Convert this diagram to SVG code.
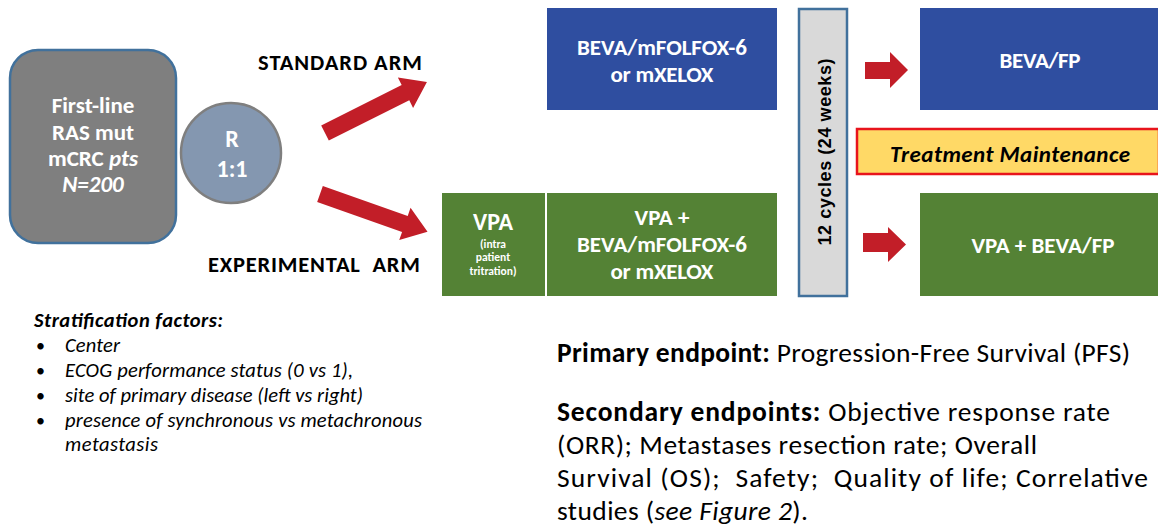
<svg xmlns="http://www.w3.org/2000/svg" width="1158" height="530" viewBox="0 0 1158 530">
<style>
text{font-family:Carlito,Lato,"Open Sans",sans-serif}
.w{fill:#fff;font-weight:bold;font-size:23px;text-anchor:middle}
.g{font-size:23px}
.sm{font-size:11.5px}
.arm{fill:#000;font-weight:bold;font-size:22.5px}
.blue{fill:#2f4ea0}
.green{fill:#548235}
.arrow{fill:#c21e28}
.strat{font-size:20.5px;font-style:italic;fill:#000}
.bul{font-size:18px;fill:#000}
.ep{font-size:27.5px;fill:#000}
</style>
<defs>
<polygon id="bigArrow" points="0,-8.5 90,-8.5 90,-17 114,0 90,17 90,8.5 0,8.5"/>
</defs>
<rect width="1158" height="530" fill="#fff"/>

<g id="population">
<rect x="10" y="50" width="166" height="193" rx="28" fill="#7f7f7f" stroke="#41719c" stroke-width="2.5"/>
<text class="w g" x="93" y="113">First-line</text>
<text class="w g" x="93" y="140">RAS mut</text>
<text class="w g" x="93" y="166">mCRC <tspan font-style="italic">pts</tspan></text>
<text class="w g" x="93" y="192" font-style="italic">N=200</text>
</g>

<g id="randomization">
<circle cx="231" cy="153" r="50" fill="#8497b0" stroke="#7f7f7f" stroke-width="2.5"/>
<text class="w" x="232" y="147" style="font-size:24px">R</text>
<text class="w" x="232" y="177" style="font-size:24px">1:1</text>
</g>

<g id="labels">
<text class="arm" x="258" y="70" textLength="164">STANDARD ARM</text>
<text class="arm" x="208" y="272" textLength="212" xml:space="preserve">EXPERIMENTAL  ARM</text>
</g>

<g id="connectors">
<use href="#bigArrow" class="arrow" transform="translate(325,133) rotate(-26.6)"/>
<use href="#bigArrow" class="arrow" transform="translate(320,194) rotate(19.4)"/>
<polygon class="arrow" points="865,62 890,62 890,52 908,70 890,88 890,79 865,79"/>
<polygon class="arrow" points="863,233 888,233 888,227 906,244.5 888,262 888,252 863,252"/>
</g>

<g id="standard-induction">
<rect class="blue" x="547" y="8" width="230" height="102"/>
<text class="w" x="662" y="55" textLength="170">BEVA/mFOLFOX-6</text>
<text class="w" x="662" y="82" textLength="103">or mXELOX</text>
</g>

<g id="vpa-lead">
<rect class="green" x="442" y="193" width="103" height="103"/>
<text class="w" x="493" y="230" style="font-size:24px">VPA</text>
<text class="w sm" x="493" y="248">(intra</text>
<text class="w sm" x="493" y="261">patient</text>
<text class="w sm" x="493" y="275">tritration)</text>
</g>

<g id="experimental-induction">
<rect class="green" x="547" y="193" width="230" height="103"/>
<text class="w" x="662" y="225">VPA +</text>
<text class="w" x="662" y="252" textLength="170">BEVA/mFOLFOX-6</text>
<text class="w" x="662" y="279" textLength="103">or mXELOX</text>
</g>

<g id="cycles">
<rect x="799" y="9" width="48" height="287" fill="#d9d9d9" stroke="#41719c" stroke-width="2.5"/>
<text x="0" y="0" transform="translate(831,152) rotate(-90)" text-anchor="middle" font-weight="bold" font-size="18" fill="#000" textLength="187" style="font-family:'Liberation Sans',Arial,sans-serif">12 cycles (24 weeks)</text>
</g>

<g id="standard-maintenance">
<rect class="blue" x="920" y="8" width="238" height="102"/>
<text class="w" x="1040" y="68" textLength="81">BEVA/FP</text>
</g>

<g id="maintenance-label">
<rect x="857" y="129" width="302" height="45" fill="#ffd966" stroke="#e8141c" stroke-width="2.5"/>
<text x="1010" y="162" text-anchor="middle" font-weight="bold" font-style="italic" font-size="23" fill="#000" textLength="240">Treatment Maintenance</text>
</g>

<g id="experimental-maintenance">
<rect class="green" x="920" y="193" width="238" height="103"/>
<text class="w" x="1043" y="253" textLength="143">VPA + BEVA/FP</text>
</g>

<g id="stratification">
<text class="strat" x="34" y="327" font-weight="bold" textLength="189">Stratification factors:</text>
<text class="bul" x="36" y="352">•</text>
<text class="bul" x="36" y="377">•</text>
<text class="bul" x="36" y="402">•</text>
<text class="bul" x="36" y="427">•</text>
<text class="strat" x="65" y="352" textLength="55">Center</text>
<text class="strat" x="65" y="377" textLength="288">ECOG performance status (0 vs 1),</text>
<text class="strat" x="65" y="402" textLength="298">site of primary disease (left vs right)</text>
<text class="strat" x="65" y="427" textLength="357">presence of synchronous vs metachronous</text>
<text class="strat" x="65" y="451" textLength="93">metastasis</text>
</g>

<g id="endpoints">
<text class="ep" x="557" y="362" textLength="573"><tspan font-weight="bold">Primary endpoint:</tspan> Progression-Free Survival (PFS)</text>
<text class="ep" x="557" y="421" textLength="553"><tspan font-weight="bold">Secondary endpoints:</tspan> Objective response rate</text>
<text class="ep" x="557" y="454" textLength="480">(ORR); Metastases resection rate; Overall</text>
<text class="ep" x="557" y="487" textLength="591" xml:space="preserve">Survival (OS);  Safety;  Quality of life; Correlative</text>
<text class="ep" x="557" y="520" textLength="251">studies (<tspan font-style="italic">see Figure 2</tspan>).</text>
</g>
</svg>
